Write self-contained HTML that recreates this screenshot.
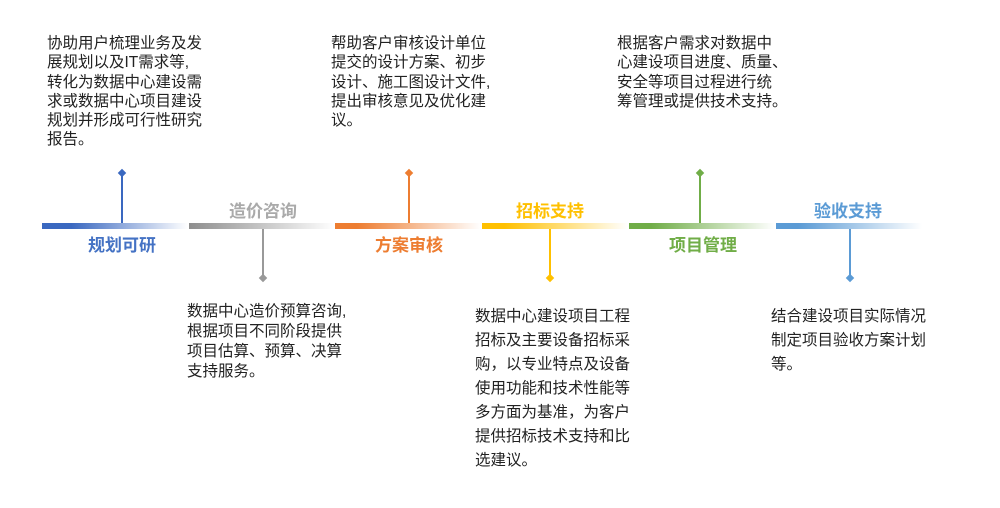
<!DOCTYPE html>
<html><head><meta charset="utf-8"><style>
body{margin:0;width:1000px;height:508px;background:#fff;position:relative;overflow:hidden;font-family:"Liberation Sans","Noto Sans CJK SC",sans-serif;}
.t{position:absolute;font-size:15.5px;color:#222;white-space:nowrap;}
.bar{position:absolute;top:223px;height:6px;width:146px;}
.v{position:absolute;width:2px;}
.d{position:absolute;width:6px;height:6px;transform:rotate(45deg);}
.l{position:absolute;font-size:17px;font-weight:bold;width:120px;text-align:center;}
</style></head><body>
<div class="t" style="left:47px;top:34px;line-height:19.3px">协助用户梳理业务及发<br>展规划以及IT需求等,<br>转化为数据中心建设需<br>求或数据中心项目建设<br>规划并形成可行性研究<br>报告。</div>
<div class="t" style="left:331px;top:34px;line-height:19.3px">帮助客户审核设计单位<br>提交的设计方案、初步<br>设计、施工图设计文件,<br>提出审核意见及优化建<br>议。</div>
<div class="t" style="left:617px;top:34px;line-height:19.3px">根据客户需求对数据中<br>心建设项目进度、质量、<br>安全等项目过程进行统<br>筹管理或提供技术支持。</div>
<div class="t" style="left:187px;top:302px;line-height:20px">数据中心造价预算咨询,<br>根据项目不同阶段提供<br>项目估算、预算、决算<br>支持服务。</div>
<div class="t" style="left:475px;top:305px;line-height:24px">数据中心建设项目工程<br>招标及主要设备招标采<br>购，以专业特点及设备<br>使用功能和技术性能等<br>多方面为基准，为客户<br>提供招标技术支持和比<br>选建议。</div>
<div class="t" style="left:771px;top:305px;line-height:24px">结合建设项目实际情况<br>制定项目验收方案计划<br>等。</div>

<div class="bar" style="left:42px;background:linear-gradient(90deg,#3a68c0,#3a68c0 20%,#fff)"></div>
<div class="bar" style="left:189px;background:linear-gradient(90deg,#8e8e8e,#fff)"></div>
<div class="bar" style="left:335px;background:linear-gradient(90deg,#ed7d31,#ed7d31 15%,#fff)"></div>
<div class="bar" style="left:482px;background:linear-gradient(90deg,#ffc000,#ffc000 15%,#fff)"></div>
<div class="bar" style="left:629px;background:linear-gradient(90deg,#70ad47,#70ad47 15%,#fff)"></div>
<div class="bar" style="left:776px;background:linear-gradient(90deg,#5b9bd5,#5b9bd5 15%,#fff)"></div>

<div class="v" style="left:121px;top:173px;height:50px;background:#3a68c0"></div><div class="d" style="left:119px;top:170px;background:#3a68c0"></div>
<div class="v" style="left:262px;top:229px;height:49px;background:#999"></div><div class="d" style="left:260px;top:275px;background:#999"></div>
<div class="v" style="left:408px;top:173px;height:50px;background:#ed7d31"></div><div class="d" style="left:406px;top:170px;background:#ed7d31"></div>
<div class="v" style="left:549px;top:229px;height:49px;background:#ffc000"></div><div class="d" style="left:547px;top:275px;background:#ffc000"></div>
<div class="v" style="left:699px;top:173px;height:50px;background:#70ad47"></div><div class="d" style="left:697px;top:170px;background:#70ad47"></div>
<div class="v" style="left:849px;top:229px;height:49px;background:#5b9bd5"></div><div class="d" style="left:847px;top:275px;background:#5b9bd5"></div>

<div class="l" style="left:62px;top:231px;color:#4472c4">规划可研</div>
<div class="l" style="left:203px;top:197px;color:#aaa">造价咨询</div>
<div class="l" style="left:349px;top:231px;color:#ed7d31">方案审核</div>
<div class="l" style="left:490px;top:197px;color:#ffc000">招标支持</div>
<div class="l" style="left:643px;top:231px;color:#70ad47">项目管理</div>
<div class="l" style="left:788px;top:197px;color:#5b9bd5">验收支持</div>
</body></html>
